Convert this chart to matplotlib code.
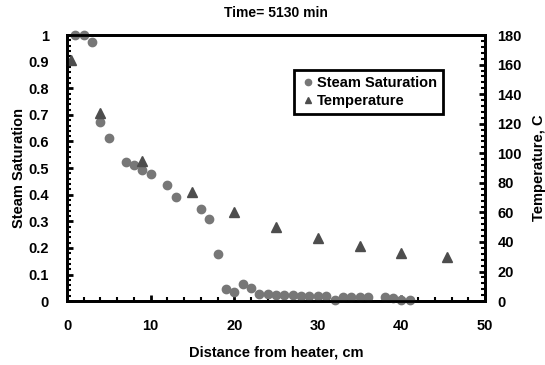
import matplotlib
matplotlib.use('Agg')
import matplotlib.pyplot as plt
from matplotlib.ticker import MultipleLocator

plt.rcParams['font.family'] = ['Liberation Sans', 'DejaVu Sans']
plt.rcParams['font.weight'] = 'bold'

# steam saturation (left axis)
sat_x = [1, 2, 3, 4, 5, 7, 8, 9, 10, 12, 13, 16, 17, 18, 19, 20, 21, 22, 23, 24,
         25, 26, 27, 28, 29, 30, 31, 32, 33, 34, 35, 36, 38, 39, 40, 41]
sat_y = [1.0, 1.0, 0.973, 0.673, 0.613, 0.522, 0.51, 0.493, 0.476, 0.436, 0.393,
         0.345, 0.308, 0.176, 0.044, 0.033, 0.066, 0.048, 0.025, 0.025,
         0.024, 0.023, 0.022, 0.021, 0.021, 0.021, 0.018, 0.004, 0.017, 0.017,
         0.017, 0.016, 0.016, 0.013, 0.003, 0.003]

# temperature (right axis)
temp_x = [0.5, 4, 9, 15, 20, 25, 30, 35, 40, 45.5]
temp_y = [163, 127, 95, 74, 60, 50, 43, 37, 32.5, 30]

sat_ticks = [i / 10 for i in range(11)]
sat_labels = ['0'] + ['0.%d' % i for i in range(1, 10)] + ['1']

fig = plt.figure(figsize=(5.45, 3.65), dpi=100)
ax = fig.add_axes([0.123, 0.175, 0.767, 0.729])
ax2 = ax.twinx()

l1, = ax.plot(sat_x, sat_y, 'o', color='#777777', ms=6, mec='#777777',
              label='Steam Saturation', clip_on=False, zorder=3)
l2, = ax2.plot(temp_x, temp_y, '^', color='#4d4d4d', ms=6.5,
               label='Temperature', clip_on=False)

ax.set_xlim(0, 50)
ax.set_ylim(0, 1)
ax2.set_ylim(0, 180)
ax.xaxis.set_major_locator(MultipleLocator(10))
ax.xaxis.set_minor_locator(MultipleLocator(2))
ax.set_yticks(sat_ticks)
ax.set_yticklabels(sat_labels)
ax.yaxis.set_minor_locator(MultipleLocator(0.02))
ax2.yaxis.set_major_locator(MultipleLocator(20))
ax2.yaxis.set_minor_locator(MultipleLocator(4))

for a in (ax, ax2):
    for s in a.spines.values():
        s.set_linewidth(2)
    a.tick_params(which='major', direction='in', length=4, width=2, labelsize=10.5)
    a.tick_params(which='minor', direction='in', length=3, width=1.5)
ax.tick_params(axis='y', which='major', pad=13)
ax.tick_params(axis='x', which='major', pad=13)
ax2.tick_params(axis='y', which='major', pad=9)

ax.set_xlabel('Distance from heater, cm', fontsize=10.5, fontweight='bold', labelpad=9)
ax.set_ylabel('Steam Saturation', fontsize=10.5, fontweight='bold', labelpad=2)
ax2.set_ylabel('Temperature, C', fontsize=10.5, fontweight='bold', labelpad=7)
ax.set_title('Time= 5130 min', fontsize=10, fontweight='bold', pad=13)

leg = ax.legend([l1, l2], ['Steam Saturation', 'Temperature'],
                loc='upper left', bbox_to_anchor=(0.525, 0.895),
                fancybox=False, framealpha=1, edgecolor='black',
                prop={'weight': 'bold', 'size': 10.5},
                handletextpad=0.1, handlelength=1.1, borderpad=0.4,
                labelspacing=0.3, markerscale=0.75)
leg.get_frame().set_linewidth(2)

plt.savefig('out.png', dpi=100)
